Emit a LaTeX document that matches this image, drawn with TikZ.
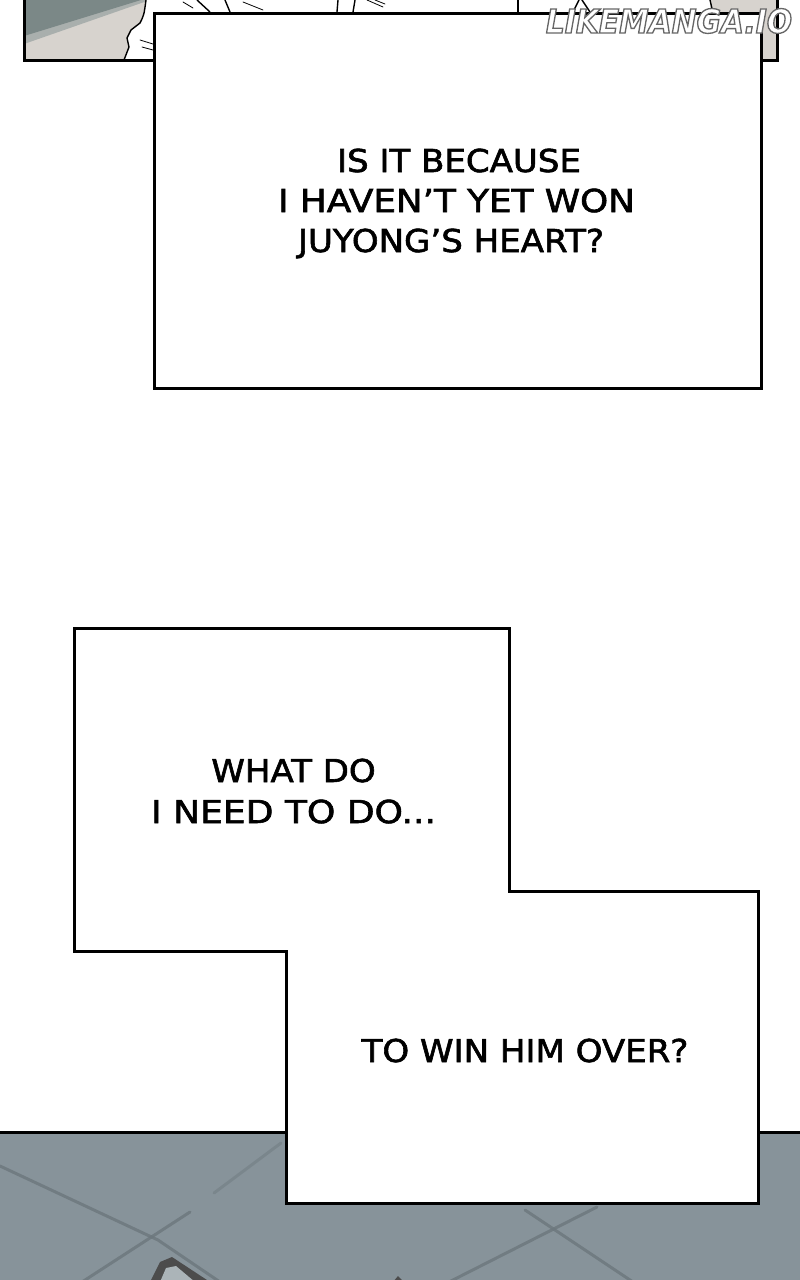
\documentclass[tikz,border=0pt]{standalone}
\usepackage{fontspec}
\newfontfamily\comicfont[FakeStretch=1.08,FakeBold=1.9]{DejaVu Sans}
\newfontfamily\wmfont[FakeStretch=0.9,FakeBold=4]{DejaVu Sans}
\definecolor{beige}{HTML}{D7D3CE}
\definecolor{darkgt}{HTML}{7B8887}
\definecolor{midgt}{HTML}{A9AFAD}
\definecolor{floor}{HTML}{87939A}
\definecolor{floorline}{HTML}{6C777D}
\tikzset{
  panelline/.style={line width=3pt, line join=miter},
  art/.style={line width=1.4pt, line cap=round},
  thinart/.style={line width=0.8pt, line cap=round},
  speechbox/.style={draw, fill=white, line width=3pt, outer sep=0pt, inner sep=0pt, anchor=north west},
  caption/.style={font=\comicfont\fontsize{31.5}{40}\selectfont, anchor=base, inner sep=0pt},
  floorstroke/.style={floorline, line width=3pt, opacity=0.8, line cap=round},
}
\begin{document}
\begin{tikzpicture}[x=1pt,y=-1pt]
\useasboundingbox (0,0) rectangle (800,1280);
\fill[white] (0,0) rectangle (800,1280);

% ---------- top panel ----------
\fill[beige] (24,0) rectangle (148,60);
\fill[midgt] (24,0) -- (150,0) -- (24,44) -- cycle;
\fill[darkgt] (24,0) -- (141,0) -- (24,36) -- cycle;
\fill[white] (146,0) .. controls (144,15) .. (140,23) -- (131,30) -- (127,38) -- (129,47) -- (124,60) -- (712,60) -- (712,0) -- cycle;
\draw[art] (146,0) .. controls (144,15) .. (140,23) -- (131,30) -- (127,38) -- (129,47) -- (124,60);
\fill[beige] (710,0) -- (777,0) -- (777,60) -- (713,60) -- cycle;
\draw[art] (710,0) -- (713,13);
\draw[thinart] (140,40) -- (153,44);
\draw[thinart] (142,47) -- (153,50);
\draw[thinart] (183,2) -- (193,8);
\draw[art] (197,0) -- (210,12);
\draw[art] (225,0) -- (230,12);
\draw[thinart] (243,2) -- (263,10);
\draw[art] (338,0) -- (337,12);
\draw[art] (355,0) -- (353,12);
\draw[thinart] (367,0) -- (383,7);
\draw[thinart] (375,0) -- (385,4);
\draw[art] (518,0) -- (518,12);
\draw[art] (573,12) -- (579,0);
\draw[art] (590,12) -- (582,0);
\draw[panelline] (24,0) -- (24,60) -- (777,60) -- (777,0);

% ---------- first caption box ----------
\node[speechbox, minimum width=607pt, minimum height=375pt] (box1) at (154,13) {};
\node[caption] (t1a) at (459,172) {IS IT BECAUSE};
\node[caption, transform shape, xscale=1.05] (t1b) at (456.5,212) {I HAVEN’T YET WON};
\node[caption] (t1c) at (451,252) {JUYONG’S HEART?};

% ---------- bottom panel ----------
\fill[floor] (0,1132) rectangle (800,1280);
\draw[floorstroke] (0,1166) -- (158,1240) -- (220,1282);
\draw[floorstroke, opacity=0.45] (281,1143) -- (214,1193);
\draw[floorstroke] (190,1212) -- (82,1282);
\draw[floorstroke] (597,1207) -- (449,1282);
\draw[floorstroke] (525,1210) -- (633,1282);
\fill[black!70] (150,1282) -- (160,1262) -- (172,1257) -- (210,1282) -- cycle;
\fill[floor!70!white] (160,1282) -- (166,1268) -- (176,1266) -- (195,1282) -- cycle;
\fill[black!70] (393,1282) -- (398,1276) -- (404,1282) -- cycle;
\draw[panelline] (0,1132) -- (800,1132);

% ---------- stepped caption box ----------
\draw[fill=white, panelline] (74,628) -- (509,628) -- (509,891) -- (758,891) -- (758,1203) -- (286,1203) -- (286,951) -- (74,951) -- cycle;
\node[caption] (t2a) at (293.5,782) {WHAT DO};
\node[caption, transform shape, xscale=1.06] (t2b) at (293.5,823) {I NEED TO DO...};
\node[caption] (t3) at (525,1062) {TO WIN HIM OVER?};

% ---------- watermark (white letters, grey outline) ----------
\node[font=\wmfont\bfseries\itshape\fontsize{33}{33}\selectfont, text=white, anchor=base, inner sep=0pt] (wm) at (669,33) {\special{pdf:literal direct 0.40 0.40 0.40 RG}LIKEMANGA.IO};
\end{tikzpicture}
\end{document}
